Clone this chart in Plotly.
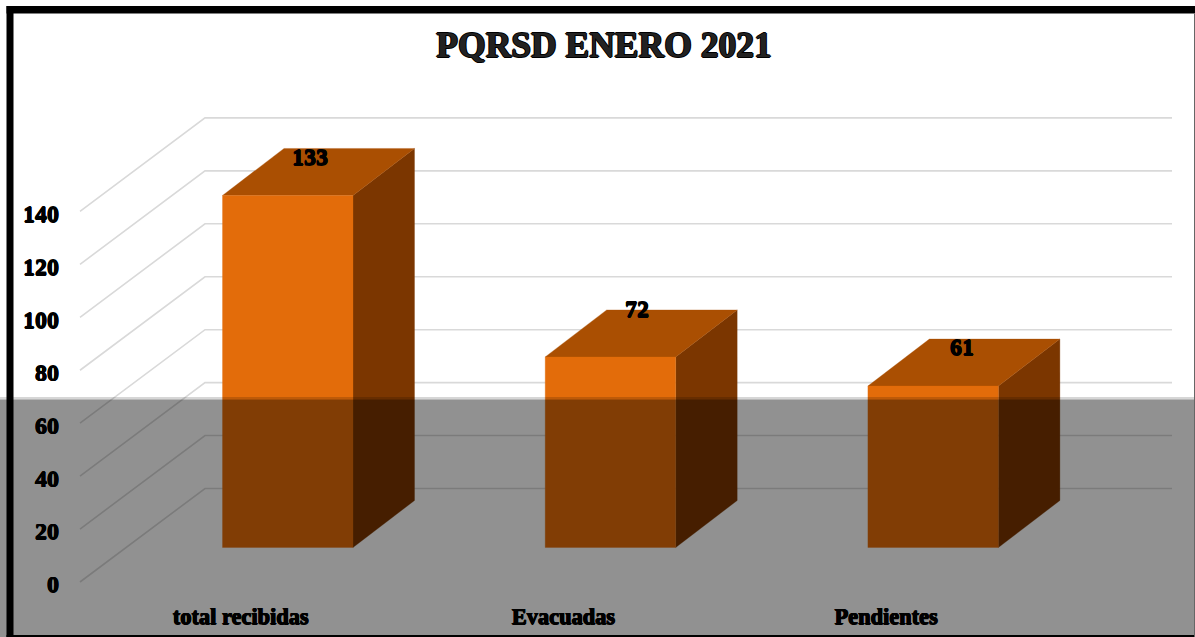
import plotly.graph_objects as go

# ---- data ----
categories = ["total recibidas", "Evacuadas", "Pendientes"]
values = [133, 72, 61]
y_ticks = [0, 20, 40, 60, 80, 100, 120, 140]
title_text = "PQRSD ENERO 2021"

# ---- styles ----
FONT = "Liberation Serif"
GRID = "#D9D9D9"
FRONT = "#E36C0A"
TOP = "#AA4F02"
SIDE = "#7B3600"
SOFT = "0.6px 0 0 #000, -0.6px 0 0 #000, 0 0.8px 0 #000, 0 -0.8px 0 #000"

# ---- layout: x axis in pixels of the projected 3-D box, y axis in data units ----
W, H = 1195, 637
PX = 2.647                     # pixels per value unit
Y0 = 582                       # pixel row of value 0 on the front edge
PLOT_BOTTOM, AXIS_LEFT = 599, 65
WALL_DX, WALL_DY = 125, 93.5   # floor depth, front edge to back wall
FLOOR_X, WALL_END = 80, 1172
BAR_X0, BAR_STEP, BAR_W = 222.5, 322.7, 130.5
BAR_DX, BAR_DY = 61.5, 47 / PX # bar depth
LABEL_SHIFT = [(22, 14.4), (27, 18.2), (29, 14.7)]   # value-label nudges
wall = WALL_DY / PX


def bar_left(i):
    return BAR_X0 + i * BAR_STEP


fig = go.Figure()


def face(xs, ys, color):
    fig.add_trace(go.Scatter(x=xs, y=ys, mode="lines", fill="toself", fillcolor=color,
                             line=dict(color=color, width=0.3), hoverinfo="skip",
                             showlegend=False))


# back wall and floor gridlines
for t in y_ticks:
    fig.add_trace(go.Scatter(x=[FLOOR_X, FLOOR_X + WALL_DX, WALL_END],
                             y=[t, t + wall, t + wall], mode="lines",
                             line=dict(color=GRID, width=1.6), hoverinfo="skip",
                             showlegend=False))

# bars: front, top and side faces projected from each value
for i, v in enumerate(values):
    x0 = bar_left(i)
    x1 = x0 + BAR_W
    base = -(547.5 - Y0) / PX
    top = base + v
    face([x1, x1 + BAR_DX, x1 + BAR_DX, x1, x1],
         [base, base + BAR_DY, top + BAR_DY, top, base], SIDE)
    face([x0, x1, x1 + BAR_DX, x0 + BAR_DX, x0],
         [top, top, top + BAR_DY, top + BAR_DY, top], TOP)
    face([x0, x1, x1, x0, x0], [base, base, top, top, base], FRONT)
    dx, dy = LABEL_SHIFT[i]
    fig.add_annotation(x=x0 + BAR_W / 2 + dx, y=top + dy, text=str(v), showarrow=False,
                       xanchor="center", yanchor="middle",
                       font=dict(family=FONT, size=24, color="#000", weight="bold", shadow=SOFT))


def py(p):
    return 1 - p / H


def rect(x0, x1, y0, y1, color):
    return dict(type="rect", xref="paper", yref="paper", x0=x0 / W, x1=x1 / W,
                y0=py(y1), y1=py(y0), fillcolor=color, line_width=0, layer="above")


shapes = [
    rect(0, W, 399.5, H, "rgba(0,0,0,0.43)"),     # translucent band over the lower part
    rect(0, W, 397, 399.5, "rgba(0,0,0,0.16)"),
    rect(6.5, W, 6, 13.5, "#000000"),             # frame
    rect(6.5, 13.5, 6, H, "#000000"),
    rect(6.5, W, 635, H, "#000000"),
    rect(1194, W, 13.5, H, "#666666"),
]

fig.update_layout(
    width=W, height=H, margin=dict(l=0, r=0, t=0, b=0),
    paper_bgcolor="#FFFFFF", plot_bgcolor="rgba(0,0,0,0)", showlegend=False,
    title=dict(text=title_text, x=604 / W, xanchor="center", xref="paper",
               y=py(45), yanchor="middle", yref="paper",
               font=dict(family=FONT, size=35.5, color="#222222", weight="bold",
                         shadow="1px 0 0 #000, -1px 0 0 #000, 0 1px 0 #000, 0 -1px 0 #000")),
    shapes=shapes,
    xaxis=dict(domain=[AXIS_LEFT / W, 1], range=[AXIS_LEFT, W], showgrid=False, zeroline=False,
               showline=False, ticks="", tickmode="array",
               tickvals=[bar_left(i) + BAR_W / 2 - 47 for i in range(len(categories))],
               ticktext=categories, ticklabelstandoff=2,
               tickfont=dict(family=FONT, size=22.4, color="#000", weight="bold", shadow=SOFT)),
    yaxis=dict(domain=[1 - PLOT_BOTTOM / H, 1], range=[(Y0 - PLOT_BOTTOM) / PX, Y0 / PX],
               showgrid=False, zeroline=False, showline=False, ticks="", tickmode="array",
               tickvals=y_ticks, ticktext=[str(t) for t in y_ticks], ticklabelstandoff=5,
               ticklabelshift=2,
               tickfont=dict(family=FONT, size=24, color="#000", weight="bold", shadow=SOFT)),
)

fig.write_html("out.html", post_script="document.body.style.margin='0';",
               config=dict(displayModeBar=False))
